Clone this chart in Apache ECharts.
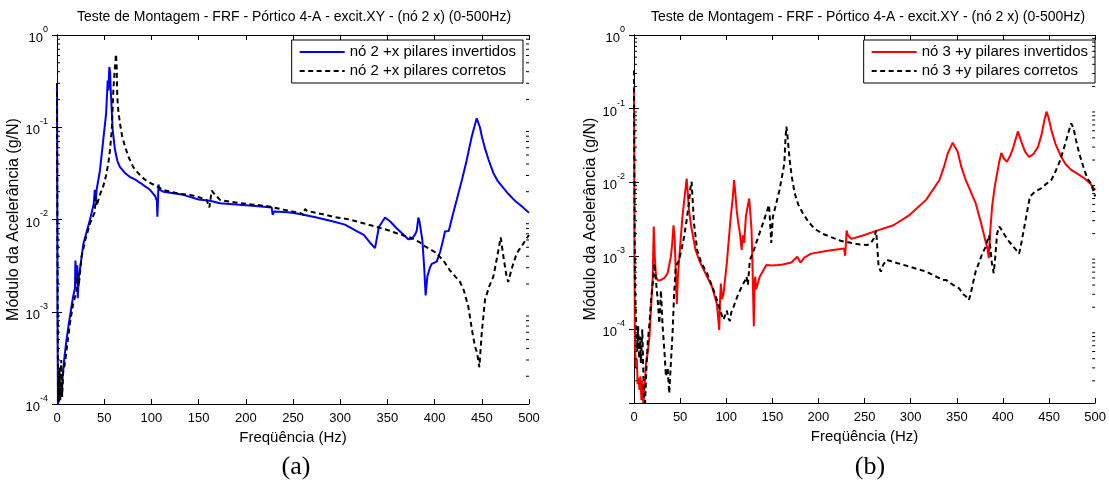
<!DOCTYPE html>
<html><head><meta charset="utf-8">
<script src="https://cdn.jsdelivr.net/npm/echarts/dist/echarts.min.js"></script>
<style>html,body{margin:0;padding:0;background:#fff}#c{width:1109px;height:481px}</style>
</head><body><div id="c"></div><script>
// ---- data (a): nó 2 +x ----
const titleText = 'Teste de Montagem - FRF - Pórtico 4-A - excit.XY - (nó 2 x) (0-500Hz)';
const xName = 'Freqüência (Hz)';
const yName = 'Módulo da Acelerância (g/N)';
const xTicks = [0, 50, 100, 150, 200, 250, 300, 350, 400, 450, 500];

const hzA_inv = [0,0.5,1,2,3,5,6,8,10,13,17,19,19.5,20.5,21.5,22,23,28,35,39,40,41,42,45.5,49,52,53.7,54.5,55.4,56.2,56.8,59,61.4,64,66.7,72,77,83,88,93,98.5,103.8,105.8,106.3,106.8,107.5,109,112.6,120,133.8,150,162,172.7,190,210,227.4,228.5,230,245,257.4,275,292.7,305,317.5,325,331.6,336.9,339,341,347.5,353,360,366,372,376,379,381,382.8,384,385.5,387,389,390.5,392.3,395,397,402.2,406,409,411,415,419,423.4,429,434,439.3,442,444.6,446,448,450,453.4,457,462.2,467,472.8,478,485,492,500];
const magA_inv = [0.3,1e-3,1e-4,1.1e-4,1.5e-4,1.2e-4,2e-4,3.3e-4,4.9e-4,8e-4,1.45e-3,1.8e-3,3.6e-3,2e-3,3.2e-3,1.4e-3,2.3e-3,5.5e-3,1e-2,1.5e-2,2.1e-2,1.6e-2,2.1e-2,3.4e-2,7.3e-2,0.14,0.32,0.25,0.45,0.4,0.27,0.093,0.057,0.043,0.037,0.032,0.029,0.027,0.025,0.023,0.021,0.018,0.016,0.0107,0.014,0.024,0.021,0.020,0.0195,0.0185,0.0165,0.016,0.015,0.0145,0.014,0.0135,0.0112,0.0122,0.012,0.0115,0.0105,0.0095,0.0088,0.0075,0.0068,0.0056,0.0049,0.005,0.0083,0.0105,0.0095,0.008,0.007,0.0061,0.0062,0.0068,0.0075,0.0105,0.0095,0.0098,0.006,0.003,0.0015,0.0024,0.003,0.0033,0.0035,0.0045,0.006,0.0074,0.0075,0.011,0.0163,0.027,0.044,0.079,0.1,0.125,0.12,0.1,0.08,0.059,0.045,0.032,0.026,0.022,0.019,0.016,0.014,0.0118];

const hzA_cor = [0,0.5,1,1.5,2.5,3.5,4.5,5.5,6.5,8.5,11,13.8,17,20.8,22,23,26.1,30,35,40,41,42,45,49,52,54.4,56,58,59.7,61,62.5,63.2,63.9,65,66.7,69,72,76,80.8,87,93.2,100,105.6,112,119.7,130,141,150,158.6,161.4,163.9,165.6,172.7,185,200,222,240,257.4,261,262.7,265,280,292.7,310,328,338.6,350,359.8,375.7,385,389.8,395,402.2,410,416.3,427,431,435.7,440,442.8,445,447.4,449.9,453.4,458,462.2,466,470,473.5,476,478,482,487,493,500];
const magA_cor = [0.3,5e-3,3e-4,1.05e-4,2.5e-4,1.1e-4,3e-4,1.2e-4,2.2e-4,2.8e-4,4.5e-4,7.6e-4,1.2e-3,1.7e-3,2.6e-3,1.9e-3,4e-3,6e-3,9.1e-3,1.2e-2,1.8e-2,1.4e-2,1.8e-2,2.3e-2,3e-2,4.1e-2,5.5e-2,0.093,0.25,0.4,0.62,0.45,0.21,0.15,0.11,0.08,0.062,0.047,0.037,0.031,0.027,0.0245,0.023,0.021,0.02,0.019,0.0185,0.0175,0.0163,0.0135,0.0205,0.0195,0.0163,0.0155,0.0148,0.014,0.0128,0.0118,0.0112,0.013,0.0124,0.0115,0.0107,0.01,0.0089,0.0083,0.0077,0.0071,0.0063,0.0056,0.0051,0.0048,0.0043,0.0035,0.0028,0.0021,0.0017,0.00114,6e-4,4.2e-4,3.6e-4,2.5e-4,5.8e-4,1.35e-3,1.9e-3,2.4e-3,3.8e-3,6.4e-3,3.6e-3,2.5e-3,2.1e-3,3e-3,4.3e-3,5.3e-3,6.8e-3];

// ---- data (b): nó 3 +y ----
const hzB_inv = [0,0.5,1,2,3,4,5,6,7,8,9,10,11,13,15,16.8,18.5,20.3,21.4,22.5,23.9,26,29.2,33,36.4,40,41.5,42.8,44,45.3,46.4,47.5,48.9,52.5,55,57.1,58,59.6,62,66.7,71,75.7,80,84.6,89.9,92.4,93.3,94.2,95.5,97,100.6,104.9,107,108.5,109.5,111.3,113,114.9,116.7,118,119.5,121.3,123,124.9,126,127.4,128.5,129.9,130.7,131.4,132.5,136.3,143.5,150,156.3,161.3,170.6,177,180.5,185,192,209.9,227.7,229,230.5,232,235.5,249,263.4,281.3,299,316.9,331.2,336,340.2,345.5,350.9,355,359.7,365,370.4,375,378.3,381,383,384.7,386,388.3,391,393.7,396,398.3,401,404.4,408,411.5,416.2,420.5,424,428.3,433,438.2,442,445,447.2,449.5,452.5,457,463.3,468,474,481,488.2,495,500];
const magB_inv = [0.2,1e-3,6.5e-5,3e-5,4e-5,1.8e-5,2.2e-5,1.5e-5,2.3e-5,1.1e-5,2e-5,1e-5,1.3e-5,3.5e-5,5e-5,8e-5,2e-4,5.2e-4,2.5e-3,1e-3,5.2e-4,4.6e-4,4.7e-4,5e-4,5.8e-4,9.8e-4,1.5e-3,2.6e-3,1.8e-3,6e-4,2.2e-4,5e-4,8.8e-4,3.4e-3,6.5e-3,0.0112,0.008,4.2e-3,2.5e-3,1.2e-3,8.5e-4,6.4e-4,5e-4,3.8e-4,2.2e-4,9.8e-5,2.5e-4,4.2e-4,2.6e-4,3e-4,7.9e-4,3.4e-3,6e-3,0.0107,0.008,4.2e-3,2.8e-3,2e-3,1.2e-3,1.9e-3,1.5e-3,3.4e-3,4.5e-3,6e-3,4e-3,2.3e-3,7e-4,1.1e-4,4e-4,5.2e-4,3.5e-4,5.2e-4,7.5e-4,7.4e-4,7.5e-4,7.6e-4,8.1e-4,9.7e-4,8.1e-4,9.5e-4,1.07e-3,1.17e-3,1.26e-3,1e-3,2.2e-3,1.9e-3,1.7e-3,1.9e-3,2.2e-3,2.6e-3,3.6e-3,5.8e-3,0.0107,0.016,0.0247,0.0345,0.026,0.016,0.0107,7.5e-3,5.2e-3,3.2e-3,2.2e-3,1.6e-3,1.3e-3,9.3e-4,2e-3,4.7e-3,8.5e-3,0.0132,0.019,0.025,0.021,0.019,0.023,0.0305,0.049,0.034,0.026,0.022,0.024,0.0305,0.045,0.07,0.091,0.075,0.051,0.033,0.022,0.0175,0.0147,0.013,0.0113,0.0095,7.8e-3];

const hzB_cor = [0,0.5,1,2.5,3.5,4.5,5.6,6.5,7.5,9,10,10.7,12,13.5,15,16.8,18.5,20.3,22.1,23.5,25.7,27.5,29.2,31,33,34.6,36.5,38.2,40,41.8,43.5,45.3,48.9,52,54.3,57,59.6,61,62.4,63.5,65,68.5,73,79.2,86.4,90,93.5,97,100.6,102.5,104,105.5,107.8,112,116.7,120,122,123.5,125.6,129,134,140,144,146.3,147.5,148.8,150.6,154,157.7,161,163,164.3,165.2,166.2,167.5,168.8,171,174.2,178,183,189,195.6,204,213.4,224,234.8,245,252.7,256,259.8,262.6,264,265.2,267.7,270,274,285,299,316.9,325,334.8,338.3,345,352.6,357,360,363,365,368,370.4,374,377.6,381,383,385,386.6,388,390,391.5,393.7,396.1,399,402,406.1,412,417.6,420,424,427,429.3,435,441.9,447,452.5,457,461.5,465,468.6,471.5,474,476.5,479.3,483,488.2,492,495.4,500];
const magB_cor = [0.33,0.01,5e-4,9.8e-5,5e-5,1.1e-4,4e-5,8e-5,3.5e-5,1e-4,3e-5,1.1e-5,1e-5,3e-5,7e-5,1.2e-4,2.5e-4,4.2e-4,7.9e-4,5e-4,2.5e-4,1.2e-4,3.4e-4,1.1e-4,5e-5,2.3e-5,3e-5,1.35e-5,3.5e-5,8.9e-5,3e-4,7.1e-4,8.8e-4,1.3e-3,1.8e-3,3e-3,5.2e-3,8e-3,0.0102,6e-3,2.8e-3,1.2e-3,8e-4,5.8e-4,3.4e-4,2.5e-4,1.8e-4,1.35e-4,1.8e-4,1.4e-4,1.3e-4,1.7e-4,2e-4,2.8e-4,3.8e-4,4.5e-4,5.2e-4,4e-4,8.8e-4,1.1e-3,1.7e-3,2.8e-3,4e-3,4.9e-3,3e-3,1.5e-3,3.4e-3,5e-3,7.8e-3,0.013,0.018,0.04,0.057,0.045,0.03,0.02,0.012,7.1e-3,5e-3,3.8e-3,2.9e-3,2.35e-3,2e-3,1.8e-3,1.6e-3,1.5e-3,1.42e-3,1.4e-3,1.45e-3,1.7e-3,2.2e-3,1.2e-3,7.1e-4,6.1e-4,7.5e-4,8.8e-4,8e-4,7.1e-4,6.1e-4,5.4e-4,4.7e-4,4.7e-4,4.1e-4,3.6e-4,3e-4,2.8e-4,2.5e-4,3e-4,4.5e-4,6.1e-4,8e-4,1.07e-3,1.3e-3,1.6e-3,1.9e-3,1.2e-3,8e-4,5.8e-4,9e-4,2e-3,2.5e-3,2.2e-3,1.9e-3,1.6e-3,1.3e-3,1.07e-3,1.5e-3,2.8e-3,4.5e-3,6.4e-3,7.5e-3,8.3e-3,9.5e-3,0.0107,0.014,0.019,0.026,0.037,0.05,0.063,0.055,0.037,0.024,0.0147,0.011,0.0097,0.0064];

const minorFactors = [2,3,4,5,6,7,8,9];

function pairs(h, m){ return h.map((x,i)=>[x, m[i]]); }
function minorTicks(lo, hi){ const out=[]; for(let e=lo;e<hi;e++){ minorFactors.forEach(f=>out.push([0, f*Math.pow(10,e)])); } return out; }

const FONT = 'Liberation Sans, Arial, sans-serif';
function logLabel(v){
  const e = Math.round(Math.log10(v));
  if (e < -4) return '';
  return '{b|10}{s|' + e + '}';
}
const richLab = {
  b:{fontSize:13, fontFamily:FONT, color:'#000', verticalAlign:'bottom'},
  s:{fontSize:9, fontFamily:FONT, color:'#000', lineHeight:20, verticalAlign:'top'}
};
const ICON_SOLID = 'path://M0,0h45v2h-45z';
const ICON_DASH = 'path://M0,0h5v2h-5zM8.5,0h5v2h-5zM17,0h5v2h-5zM25.5,0h5v2h-5zM34,0h5v2h-5zM42.5,0h2.5v2h-2.5z';

function xAxes(gi){
  return [
    {type:'value', gridIndex:gi, min:0, max:500, interval:50, position:'bottom',
     name:xName, nameLocation:'middle', nameGap:25,
     nameTextStyle:{fontSize:15, fontFamily:FONT, color:'#000'},
     axisLine:{lineStyle:{color:'#000', width:1}},
     axisTick:{inside:true, length:5, lineStyle:{color:'#000'}},
     axisLabel:{fontSize:13, fontFamily:FONT, color:'#000', margin:8},
     splitLine:{show:false}},
    {type:'value', gridIndex:gi, min:0, max:500, interval:50, position:'top',
     axisLine:{lineStyle:{color:'#000', width:1}},
     axisTick:{inside:true, length:5, lineStyle:{color:'#000'}},
     axisLabel:{show:false}, splitLine:{show:false}}
  ];
}
function yAxes(gi, mn, gap){
  return [
    {type:'log', logBase:10, gridIndex:gi, min:mn, max:1, position:'left',
     name:yName, nameLocation:'middle', nameGap:gap,
     nameTextStyle:{fontSize:16, fontFamily:FONT, color:'#000'},
     axisLine:{lineStyle:{color:'#000', width:1}},
     axisTick:{inside:true, length:5, lineStyle:{color:'#000'}},
     axisLabel:{formatter:logLabel, rich:richLab, margin:9},
     splitLine:{show:false}},
    {type:'log', logBase:10, gridIndex:gi, min:mn, max:1, position:'right',
     axisLine:{lineStyle:{color:'#000', width:1}},
     axisTick:{inside:true, length:5, lineStyle:{color:'#000'}},
     axisLabel:{show:false}, splitLine:{show:false}}
  ];
}
function minorRender(params, api){
  const v = api.value(1);
  const a = api.coord([0, v]), b = api.coord([500, v]);
  return {type:'group', children:[
    {type:'line', shape:{x1:a[0], y1:a[1], x2:a[0]+3, y2:a[1]}, style:{stroke:'#000', lineWidth:1}},
    {type:'line', shape:{x1:b[0], y1:b[1], x2:b[0]-3, y2:b[1]}, style:{stroke:'#000', lineWidth:1}}
  ]};
}
function lineSeries(name, xi, yi, data, color, dashed){
  return {type:'line', name, xAxisIndex:xi, yAxisIndex:yi, data, symbol:'none',
    lineStyle:{color, width:2, type: dashed ? [5,3.5] : 'solid'}, itemStyle:{color},
    clip:true, animation:false, z: dashed ? 3 : 2};
}
function legendCfg(names, right){
  return {data:[{name:names[0], icon:ICON_SOLID}, {name:names[1], icon:ICON_DASH}],
    orient:'vertical', right, top:40,
    itemWidth:45, itemHeight:2, itemGap:3, padding:[4,7,4,8], borderColor:'#000', borderWidth:1, backgroundColor:'#fff',
    textStyle:{fontSize:15, fontFamily:FONT, color:'#000', lineHeight:16}};
}

const chart = echarts.init(document.getElementById('c'), null, {renderer:'canvas'});
chart.setOption({
  backgroundColor:'#fff',
  animation:false,
  title:[
    {text:titleText, left:289, top:5, textAlign:'center', textStyle:{fontSize:14, fontWeight:'normal', fontFamily:FONT, color:'#000'}},
    {text:titleText, left:863, top:5, textAlign:'center', textStyle:{fontSize:14, fontWeight:'normal', fontFamily:FONT, color:'#000'}},
    {text:'(a)', left:291, top:449, textAlign:'center', textStyle:{fontSize:26, fontWeight:'normal', fontFamily:'Liberation Serif, Times New Roman, serif', color:'#000'}},
    {text:'(b)', left:865, top:449, textAlign:'center', textStyle:{fontSize:26, fontWeight:'normal', fontFamily:'Liberation Serif, Times New Roman, serif', color:'#000'}}
  ],
  legend:[
    legendCfg(['nó 2 +x pilares invertidos','nó 2 +x pilares corretos'], 586),
    legendCfg(['nó 3 +y pilares invertidos','nó 3 +y pilares corretos'], 14)
  ],
  grid:[
    {left:57, top:35, width:472, height:369},
    {left:634, top:35, width:467, height:368}
  ],
  xAxis:[...xAxes(0), ...xAxes(1)],
  yAxis:[...yAxes(0, 1e-4, 32), ...yAxes(1, 1e-5, 33)],
  series:[
    lineSeries('nó 2 +x pilares invertidos', 0, 0, pairs(hzA_inv, magA_inv), '#0000ff', false),
    lineSeries('nó 2 +x pilares corretos', 0, 0, pairs(hzA_cor, magA_cor), '#000000', true),
    lineSeries('nó 3 +y pilares invertidos', 2, 2, pairs(hzB_inv, magB_inv), '#ff0000', false),
    lineSeries('nó 3 +y pilares corretos', 2, 2, pairs(hzB_cor, magB_cor), '#000000', true),
    {type:'custom', xAxisIndex:0, yAxisIndex:0, data:minorTicks(-4,0), renderItem:minorRender, silent:true, clip:false, z:5},
    {type:'custom', xAxisIndex:2, yAxisIndex:2, data:minorTicks(-5,0), renderItem:minorRender, silent:true, clip:false, z:5}
  ]
});
</script></body></html>
